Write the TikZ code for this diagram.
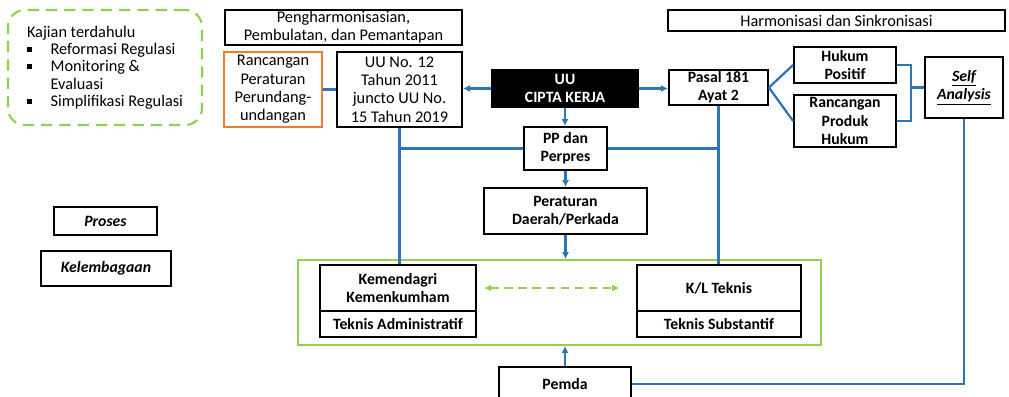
\documentclass[tikz,border=0pt]{standalone}
\usepackage{fontspec}
\setmainfont{Carlito}
\usepackage{xcolor}
\usepackage{tikz}
\usetikzlibrary{arrows.meta, positioning, calc}
\definecolor{lineblue}{RGB}{46,117,182}
\definecolor{softgreen}{RGB}{146,208,80}
\definecolor{deeporange}{RGB}{237,125,49}
\newcommand{\sqitem}{\hspace*{0pt}\rule[2pt]{3.3pt}{3.3pt}\hspace*{13.5pt}}

\begin{document}
\begin{tikzpicture}[
        x=0.025cm, y=-0.025cm,
        box/.style={draw, line width=1.3pt, align=center, inner sep=1pt, font=\fontsize{11.6}{13}\selectfont},
        bbox/.style={box, font=\fontsize{11.2}{13}\selectfont\bfseries},
        link/.style={draw=lineblue, line width=1.6pt},
        arrow/.style={link, -{Latex[length=5pt, width=5pt]}}
    ]
        \useasboundingbox (0,0) rectangle (1009,396);

        \node[box, draw=softgreen, dash pattern=on 8pt off 5pt, rounded corners=12pt, line width=1.5pt, minimum width=4.85cm, minimum height=2.875cm, align=left, font=\fontsize{11.6}{12.3}\selectfont] (kajian) at (105,67.5) {Kajian terdahulu\\ \sqitem Reformasi Regulasi\\ \sqitem Monitoring \&\\ \hspace*{16.8pt}Evaluasi\\ \sqitem Simplifikasi Regulasi};
        \node[bbox, minimum width=2.575cm, minimum height=0.7cm] (proses) at (105.5,221) {\textit{Proses}};
        \node[bbox, minimum width=3.25cm, minimum height=0.875cm] (kelem) at (106,268.5) {\textit{Kelembagaan}};

        \node[box, minimum width=5.925cm, minimum height=0.875cm] (pemb) at (343.5,27.5) {Pengharmonisasian,\\Pembulatan, dan Pemantapan};
        \node[box, draw=deeporange, minimum width=2.45cm, minimum height=1.875cm] (rpp) at (273,89.5) {Rancangan\\Peraturan\\Perundang-\\undangan};
        \node[box, minimum width=3.125cm, minimum height=1.875cm] (uu12) at (399.5,89.5) {UU No. 12\\Tahun 2011\\juncto UU No.\\15 Tahun 2019};
        \node[bbox, fill=black, text=white, minimum width=3.65cm, minimum height=0.925cm] (uuck) at (565,88.5) {UU\\CIPTA KERJA};
        \node[bbox, minimum width=2.475cm, minimum height=0.875cm] (pasal) at (718.5,87.5) {Pasal 181\\Ayat 2};
        \node[box, minimum width=8.425cm, minimum height=0.525cm] (harmon) at (836.5,20.5) {Harmonisasi dan Sinkronisasi};
        \node[bbox, minimum width=2.55cm, minimum height=0.9cm] (hukpos) at (845,65) {Hukum\\Positif};
        \node[bbox, minimum width=2.55cm, minimum height=1.3cm] (rph) at (845,121) {Rancangan\\Produk\\Hukum};
        \node[bbox, minimum width=1.95cm, minimum height=1.525cm] (self) at (964,87.5) {\textit{\underline{Self}}\\\textit{\underline{Analysis}}};
        \node[bbox, minimum width=2.075cm, minimum height=1.075cm] (pp) at (565.5,148.5) {PP dan\\Perpres};
        \node[bbox, minimum width=4.075cm, minimum height=1.15cm] (perda) at (565.5,211) {Peraturan\\Daerah/Perkada};

        \node[draw=softgreen, line width=1.2pt, minimum width=13.075cm, minimum height=2.125cm] (wadah) at (559.5,302.5) {};
        \node[bbox, minimum width=3.9cm, minimum height=1.15cm] (kemen) at (398,288) {Kemendagri\\Kemenkumham};
        \node[bbox, minimum width=3.9cm, minimum height=0.65cm] (tadm) at (398,324) {Teknis Administratif};
        \node[bbox, minimum width=4.1cm, minimum height=1.15cm] (kl) at (719,288) {K/L Teknis};
        \node[bbox, minimum width=4.1cm, minimum height=0.65cm] (tsub) at (719,324) {Teknis Substantif};
        \node[bbox, minimum width=3.3cm, minimum height=0.85cm] (pemda) at (565,384) {Pemda};

        \coordinate (brk) at ($(hukpos.east)+(14,0)$);

        \draw[link] (rpp) -- (uu12);
        \draw[arrow] (uuck.west) -- (uuck.west -| uu12.east);
        \draw[arrow] (uuck.east) -- (uuck.east -| pasal.west);
        \draw[arrow] (uuck.south) -- (uuck.south |- pp.north);
        \draw[arrow] (pp.south) -- (pp.south |- perda.north);
        \draw[arrow] (perda.south) -- (perda.south |- wadah.north);
        \draw[arrow] (pemda.north) -- (pemda.north |- wadah.south);
        \draw[link] (pasal.east) -- (hukpos.west);
        \draw[link] (pasal.east) -- (rph.west);
        \draw[link] (hukpos.east) -- (brk) |- (rph.east);
        \draw[link] (self.west) -- (self.west -| brk);
        \draw[link] (uu12.south) -- (uu12.south |- kemen.north);
        \draw[link] (pasal.south) -- (pasal.south |- kl.north);
        \draw[link] (pp.west) -- (pp.west -| uu12.south);
        \draw[link] (pp.east) -- (pp.east -| pasal.south);
        \draw[link] (pemda.east) -| (self.south);
        \draw[draw=softgreen, line width=1.5pt, dash pattern=on 6pt off 4pt, {Latex[length=5pt, width=5pt]}-{Latex[length=5pt, width=5pt]}, shorten <=5pt, shorten >=12pt] (kemen) -- (kl);
    \end{tikzpicture}
\end{document}
